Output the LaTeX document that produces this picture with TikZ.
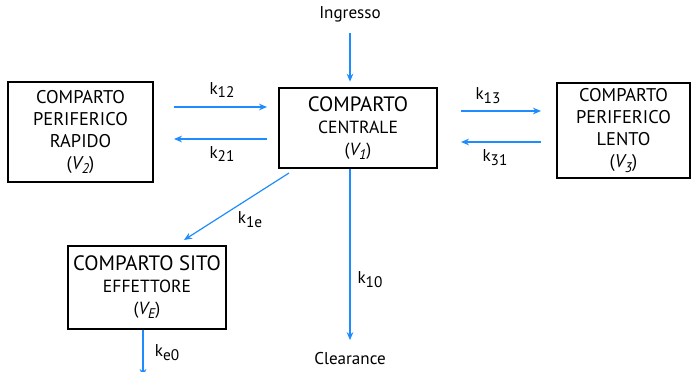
\documentclass[tikz,border=0pt]{standalone}
\usepackage{fontspec}
\setmainfont{PT Sans}
\usetikzlibrary{positioning, calc, arrows.meta}
\definecolor{FlowBlue}{HTML}{1E8CFF}
\newcommand{\pedice}[1]{\raisebox{-0.45ex}{\fontsize{11.5}{12}\selectfont #1}}
\newcommand{\volume}[1]{(\textit{V\raisebox{-0.45ex}{\fontsize{10.5}{11}\selectfont #1}})}

\begin{document}
\begin{tikzpicture}[x=0.75pt, y=-0.75pt,
    comparto/.style={draw, line width=1.5pt, align=center, inner sep=0pt,
                     font=\fontsize{13.8}{16.5}\selectfont},
    flusso/.style={draw=FlowBlue, line width=0.9pt, -{Stealth[length=6pt, width=5pt]}},
    costante/.style={font=\fontsize{12.8}{14}\selectfont},
    etichetta/.style={font=\fontsize{12.8}{14}\selectfont}]
      \useasboundingbox (0,0) rectangle (691,371);
      \clip (0,0) rectangle (691,371);
      %% Compartments
      \node[comparto, minimum width=145*0.75pt, minimum height=100*0.75pt] (rapido) at (80.5,132)
           {COMPARTO\\PERIFERICO\\RAPIDO\\\volume{2}};
      \node[comparto, minimum width=158*0.75pt, minimum height=80*0.75pt,
            font=\fontsize{13.2}{16.5}\selectfont] (centrale) at (358,128)
           {{\fontsize{15.6}{17}\selectfont COMPARTO}\\CENTRALE\\\volume{1}};
      \node[comparto, minimum width=133*0.75pt, minimum height=95*0.75pt] (lento) at (623.5,130.5)
           {COMPARTO\\PERIFERICO\\LENTO\\\volume{3}};
      \node[comparto, minimum width=158*0.75pt, minimum height=83*0.75pt,
            font=\fontsize{13.2}{16.5}\selectfont] (effettore) at (147,287.5)
           {{\fontsize{15.6}{17}\selectfont COMPARTO SITO}\\EFFETTORE\\\volume{E}};
      %% Input and output
      \node[etichetta] (ingresso) at (350,14) {Ingresso};
      \node[etichetta] (clearance) at (350,359) {Clearance};
      \coordinate (eliminazione) at (143,377);
      %% Exchange with the rapid peripheral compartment
      \draw[flusso] ($(rapido.east)+(20,-25)$) -- ($(centrale.west)+(-11,-21)$);
      \draw[flusso] ($(centrale.west)+(-11,11)$) -- ($(rapido.east)+(20,7)$);
      \node[costante] (k12) at (222,90) {k\pedice{12}};
      \node[costante] (k21) at (222,154) {k\pedice{21}};
      %% Exchange with the slow peripheral compartment
      \draw[flusso] ($(centrale.east)+(23,-17)$) -- ($(lento.west)+(-15,-19.5)$);
      \draw[flusso] ($(lento.west)+(-15,11.5)$) -- ($(centrale.east)+(23,14)$);
      \node[costante] (k13) at (488,96) {k\pedice{13}};
      \node[costante] (k31) at (495,158) {k\pedice{31}};
      %% Dosing, effect site and elimination
      \draw[flusso, shorten <=5, shorten >=4] (ingresso.south) -- (ingresso.south |- centrale.north);
      \draw[flusso] ($(centrale.south west)+(11,4)$) -- ($(effettore.north east)+(-43,-5)$);
      \node[costante] (k1e) at (250,220) {k\pedice{1e}};
      \draw[flusso, shorten >=6] (clearance.north |- centrale.south) -- (clearance.north);
      \node[costante] (k10) at (370,280) {k\pedice{10}};
      \draw[flusso] ($(effettore.south)+(-4,0)$) -- (eliminazione);
      \node[costante] (ke0) at (167,353) {k\pedice{e0}};
\end{tikzpicture}
\end{document}
